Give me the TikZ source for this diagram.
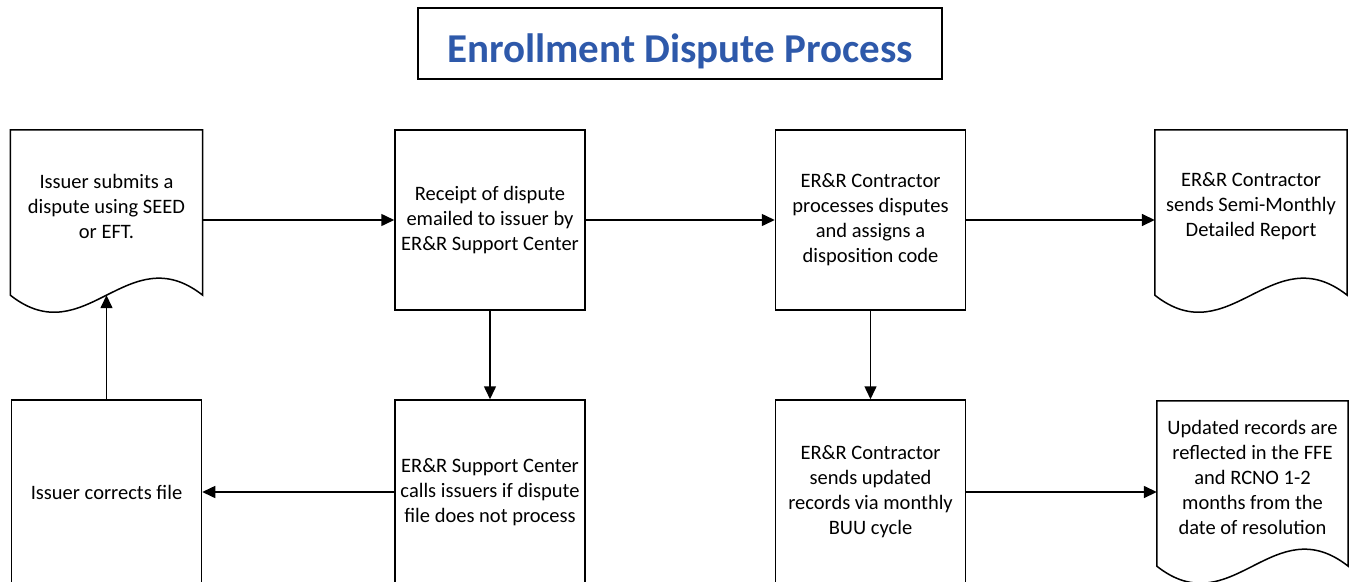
\documentclass[tikz,border=0pt]{standalone}
\usepackage{fontspec}
\setmainfont{Carlito}
\usepackage{xcolor}
\usepackage{tikz}
\usetikzlibrary{shapes,arrows,positioning,calc,arrows.meta}
\definecolor{titleblue}{RGB}{46,89,170}

% outline of a document shape around a node, wave 12pt below it
\newcommand{\docoutline}[1]{%
    \draw [line width=1.5pt] (#1.north west) -- (#1.north east) -- ($(#1.south east)+(0,12)$)
        .. controls ($(#1.south east)+(-75,-47)$) and ($(#1.south west)+(75,71)$) .. ($(#1.south west)+(0,12)$) -- cycle;
    \coordinate (#1-w) at ($(#1.south)+(0,12)$);}

\begin{document}
\begin{tikzpicture}[x=1pt, y=-1pt,
    box/.style={draw, line width=1.5pt, minimum width=190pt, minimum height=180pt, align=center, inner sep=2pt, font=\fontsize{20.5}{25}\selectfont},
    doc/.style={minimum width=192pt, minimum height=153pt, align=center, inner sep=0pt, font=\fontsize{20.5}{25}\selectfont},
    line/.style={line width=1.5pt, -{Triangle[length=13pt, width=12pt]}}]
    \useasboundingbox (0,0) rectangle (1356,581);
    \clip (0,0) rectangle (1356,581);

    \node [draw, line width=1.5pt, minimum width=524pt, minimum height=71pt, text height=40pt, text depth=3pt, text=titleblue, font=\fontsize{41}{48}\selectfont\bfseries] (title) at (680,43.5) {Enrollment Dispute Process};

    % top row
    \node [doc] (d1) at (106.5,206.5) {Issuer submits a\\dispute using SEED\\or EFT.};
    \node [box] (b2) at (490,220) {Receipt of dispute\\emailed to issuer by\\ER\&R Support Center};
    \node [box] (b3) at (870.5,220) {ER\&R Contractor\\processes disputes\\and assigns a\\disposition code};
    \node [doc] (d4) at (1251,206.5) {ER\&R Contractor\\sends Semi-Monthly\\Detailed Report};

    % bottom row
    \node [box, minimum height=184pt] (b5) at (106.5,492) {Issuer corrects file};
    \node [box, minimum height=184pt] (b6) at (490,492) {ER\&R Support Center\\calls issuers if dispute\\file does not process};
    \node [box, minimum height=184pt] (b7) at (870.5,492) {ER\&R Contractor\\sends updated\\records via monthly\\BUU cycle};
    \node [doc, minimum width=191pt] (d8) at (1252.5,477.5) {Updated records are\\reflected in the FFE\\and RCNO 1-2\\months from the\\date of resolution};

    \docoutline{d1}
    \docoutline{d4}
    \docoutline{d8}

    \draw [line] (d1.east |- b2.west) -- (b2.west);
    \draw [line] (b2) -- (b3);
    \draw [line] (b3.east) -- (b3.east -| d4.west);
    \draw [line] (b2) -- (b6);
    \draw [line] (b3) -- (b7);
    \draw [line] (b6) -- (b5);
    \draw [line] (b5.north) -- (d1-w);
    \draw [line] (b7.east) -- (b7.east -| d8.west);
\end{tikzpicture}
\end{document}
